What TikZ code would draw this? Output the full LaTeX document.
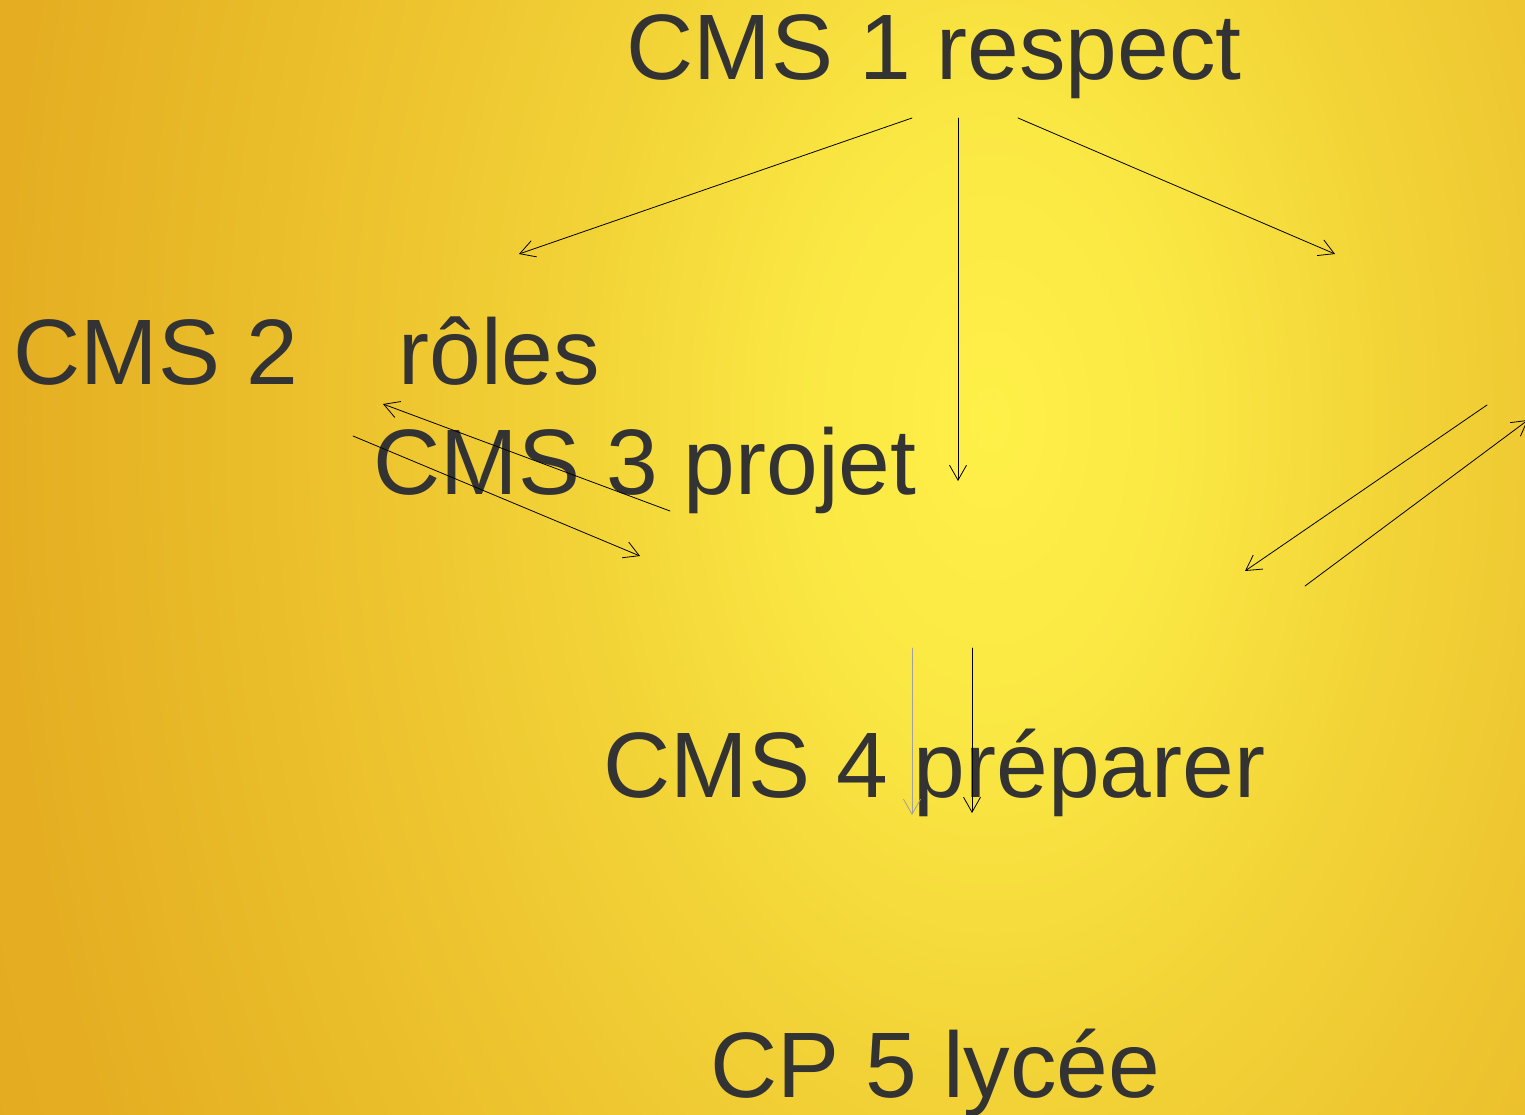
\documentclass[tikz,border=0pt]{standalone}
\usepackage{fontspec}
\setmainfont{Liberation Sans}
\usepackage{tikz}
\usetikzlibrary{arrows.meta}
\usetikzlibrary{positioning}

\definecolor{inkgray}{HTML}{333333}
\definecolor{fadegray}{HTML}{A0A0A0}
\definecolor{suna}{HTML}{FFF048}
\definecolor{sunb}{HTML}{FAE743}
\definecolor{sunc}{HTML}{F3D538}
\definecolor{sund}{HTML}{EEC630}
\definecolor{sune}{HTML}{E8BA28}
\definecolor{sunf}{HTML}{E5AE22}
\definecolor{sung}{HTML}{E2A820}
\pgfdeclareradialshading{sunglow}{\pgfpoint{0bp}{0bp}}{%
  color(0bp)=(suna); color(5bp)=(sunb); color(9.75bp)=(sunc);
  color(14.75bp)=(sund); color(19.75bp)=(sune); color(24.75bp)=(sunf);
  color(30bp)=(sung); color(50bp)=(sung)}

\tikzset{
  title/.style={inner sep=0pt, anchor=base west, text=inkgray,
    font=\fontsize{93}{112}\selectfont},
  link/.style={->, line width=0.8pt, black},
  faint/.style={->, line width=0.8pt, fadegray}
}

\begin{document}
\begin{tikzpicture}[x=1pt, y=-1pt, line cap=round, line join=round,
    >={Straight Barb[length=15pt, width=17pt]}]
  %--- Background
    \useasboundingbox (0,0) rectangle (1525,1115);
    \begin{scope}
      \clip (0,0) rectangle (1525,1115);
      \shade[shading=sunglow] (-10,-1180) rectangle (1990,2020);
    \end{scope}
  %--- Titles
    \node[title] (cms1) at (626.5,80) {CMS 1 respect};
    \node[title] (cms2) at (13.5,384) {CMS 2\hspace{100.5pt}rôles};
    \node[title] (cms3) at (373.5,494) {CMS 3 projet};
    \node[title] (cms4) at (603.5,797) {CMS 4 préparer};
    \node[title] (cp5) at (710.5,1097) {CP 5 lycée};
  %--- Arrow ends
    \coordinate (r1l) at (912,118);   \coordinate (r2t) at (519,254);
    \coordinate (r1m) at (958,118);   \coordinate (r3t) at (958,481);
    \coordinate (r1r) at (1018,118);  \coordinate (rrt) at (1335,254);
    \coordinate (p3a) at (670,511);   \coordinate (p2t) at (383,404);
    \coordinate (p2a) at (353,436);   \coordinate (p3t) at (640,556);
    \coordinate (q1a) at (1487,405);  \coordinate (q1t) at (1245,571);
    \coordinate (q2a) at (1305,586);  \coordinate (q2t) at (1528,420);
    \coordinate (s4a) at (912,648);   \coordinate (s4t) at (912,815);
    \coordinate (s5a) at (972,648);   \coordinate (s5t) at (972,813);
  %--- From CMS 1
    \draw[link] (r1l) -- (r2t);
    \draw[link] (r1m) -- (r3t);
    \draw[link] (r1r) -- (rrt);
  %--- Between CMS 2 and CMS 3
    \draw[link] (p3a) -- (p2t);
    \draw[link] (p2a) -- (p3t);
  %--- Right side
    \draw[link] (q1a) -- (q1t);
    \draw[link] (q2a) -- (q2t);
  %--- Down to CMS 4
    \draw[faint] (s4a) -- (s4t);
    \draw[link] (s5a) -- (s5t);
\end{tikzpicture}
\end{document}
